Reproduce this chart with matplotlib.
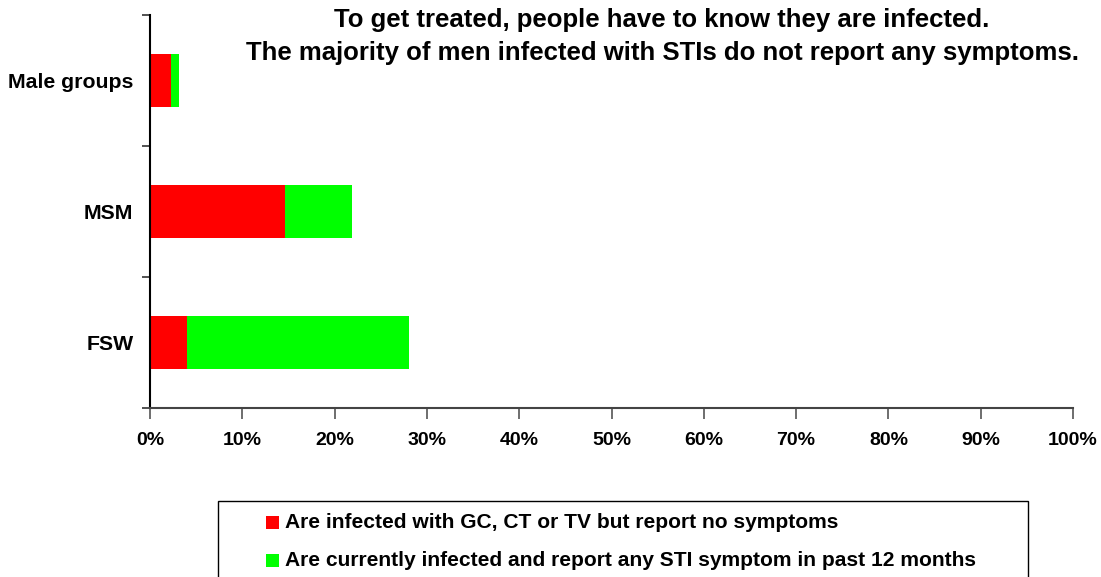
import matplotlib
matplotlib.use("Agg")
import matplotlib.pyplot as plt
from matplotlib.patches import Rectangle
from matplotlib.ticker import PercentFormatter
import numpy as np

plt.rcParams["font.family"] = ["Liberation Sans", "DejaVu Sans"]
plt.rcParams["font.weight"] = "bold"

# ── Data (share of respondents) ───────────────────────────────────────────────
groups = ["FSW", "MSM", "Male groups"]
no_symptoms = [0.040, 0.146, 0.023]
with_symptoms = [0.241, 0.073, 0.008]
labels = ["Are infected with GC, CT or TV but report no symptoms",
          "Are currently infected and report any STI symptom in past 12 months"]
colors = ["#FF0000", "#00FF00"]
title_lines = ["To get treated, people have to know they are infected.",
               "The majority of men infected with STIs do not report any symptoms."]

W, H = 1101, 577
fig = plt.figure(figsize=(W / 100, H / 100), dpi=100)
ax = fig.add_axes([150 / W, 1 - 408 / H, 923 / W, 393 / H])

y = np.arange(len(groups))
ax.barh(y, no_symptoms, height=0.4, color=colors[0], label=labels[0])
ax.barh(y, with_symptoms, left=no_symptoms, height=0.4,
        color=colors[1], label=labels[1])

ax.set_xlim(0, 1)
ax.set_ylim(-0.5, len(groups) - 0.5)
ax.set_xticks(np.arange(0, 1.01, 0.1))
ax.xaxis.set_major_formatter(PercentFormatter(1.0, decimals=0))
ax.tick_params(axis="x", direction="out", length=8, width=1.2,
               color="#555555", labelsize=14, pad=9)

ax.set_yticks(np.arange(-0.5, len(groups), 1.0))
ax.set_yticklabels([])
ax.set_yticks(y, minor=True)
ax.set_yticklabels(groups, minor=True, fontsize=15.3, fontweight="bold")
ax.tick_params(axis="y", which="major", direction="out", length=6,
               width=1.2, color="#333333")
ax.tick_params(axis="y", which="minor", length=0, pad=12)

for s in ["top", "right"]:
    ax.spines[s].set_visible(False)
ax.spines["left"].set_linewidth(1.5)
ax.spines["left"].set_color("black")
ax.spines["bottom"].set_linewidth(1.5)
ax.spines["bottom"].set_color("#444444")

for lbl in ax.get_xticklabels():
    lbl.set_fontweight("bold")

# ── Title, two centred lines ──────────────────────────────────────────────────
for i, line in enumerate(title_lines):
    fig.text(662 / W, 1 - (27 + 33 * i) / H, line, ha="center",
             va="baseline", fontsize=18.5, fontweight="bold")

# ── Legend box (drawn by hand, runs off the bottom edge) ─────────────────────
fig.patches.append(Rectangle((218 / W, 1 - 620 / H), 810 / W, 119 / H,
                             transform=fig.transFigure, facecolor="white",
                             edgecolor="black", linewidth=1.0,
                             clip_on=False))
for i, (lab, col) in enumerate(zip(labels, colors)):
    yc = 522 + i * 38.5
    fig.patches.append(Rectangle((266 / W, 1 - (yc + 6.5) / H), 13 / W, 13 / H,
                                 transform=fig.transFigure, facecolor=col,
                                 edgecolor="none"))
    fig.text(285 / W, 1 - yc / H, lab, ha="left", va="center",
             fontsize=15.1, fontweight="bold")

fig.savefig("out.png", dpi=100)
